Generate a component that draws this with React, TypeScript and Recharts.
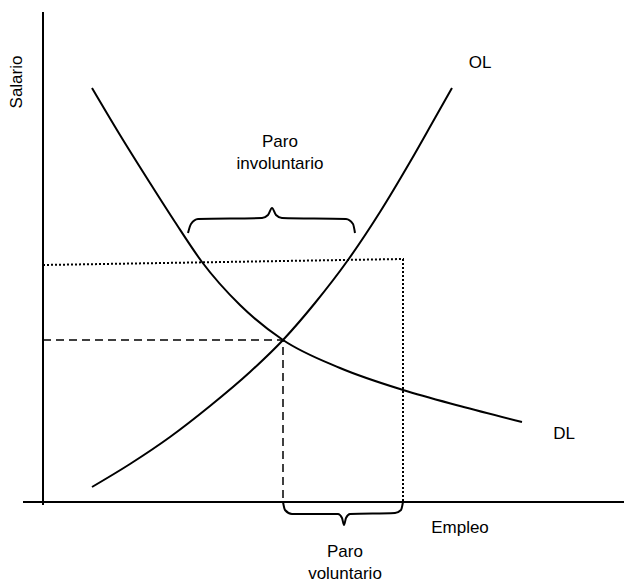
import { LineChart, Line, XAxis, YAxis, ReferenceLine, ReferenceDot } from 'recharts'

// Coordinates are in abstract "empleo" (x) / "salario" (y) units.
const demandaDL = [
  { x: 49, y: 414 },
  { x: 77, y: 367 },
  { x: 107, y: 319 },
  { x: 132, y: 280 },
  { x: 159, y: 240 },
  { x: 197, y: 197 },
  { x: 240, y: 162 },
  { x: 297, y: 134 },
  { x: 360, y: 112 },
  { x: 417, y: 96 },
  { x: 479, y: 80 },
]

const ofertaOL = [
  { x: 49, y: 15 },
  { x: 87, y: 38 },
  { x: 127, y: 65 },
  { x: 167, y: 96 },
  { x: 207, y: 130 },
  { x: 240, y: 162 },
  { x: 272, y: 199 },
  { x: 305, y: 242 },
  { x: 337, y: 290 },
  { x: 367, y: 340 },
  { x: 392, y: 384 },
  { x: 409, y: 414 },
]

// equilibrio: linea discontinua
const equilibrio = [
  { x: 0, y: 162 },
  { x: 240, y: 162 },
  { x: 240, y: 0 },
]

// salario por encima del equilibrio: linea punteada
const salarioAlto = [
  { x: 0, y: 237 },
  { x: 360, y: 243 },
  { x: 360, y: 0 },
]

const llaveInvoluntario = [
  { x: 145, y: 269 },
  { x: 148, y: 278 },
  { x: 155, y: 283 },
  { x: 219, y: 284 },
  { x: 225, y: 287 },
  { x: 229, y: 294 },
  { x: 233, y: 287 },
  { x: 239, y: 284 },
  { x: 303, y: 283 },
  { x: 310, y: 278 },
  { x: 312, y: 269 },
]

const llaveVoluntario = [
  { x: 240, y: 0 },
  { x: 242, y: -8 },
  { x: 249, y: -12 },
  { x: 295, y: -12 },
  { x: 299, y: -16 },
  { x: 301, y: -23 },
  { x: 303, y: -16 },
  { x: 307, y: -12 },
  { x: 352, y: -11 },
  { x: 358, y: -8 },
  { x: 360, y: 0 },
]

const etiquetas = [
  { x: 437, y: 440, text: 'OL' },
  { x: 521, y: 69, text: 'DL' },
  { x: 237, y: 361, text: 'Paro' },
  { x: 237, y: 339, text: 'involuntario' },
  { x: 417, y: -25, text: 'Empleo' },
  { x: 302, y: -49, text: 'Paro' },
  { x: 302, y: -71, text: 'voluntario' },
]

const ejeY = { x: -27, y: 420, text: 'Salario' }

const FONT = 'Liberation Sans, Arial, sans-serif'
const INK = '#000'

export default function App() {
  return (
    <div style={{ position: 'absolute', left: 0, top: 0, background: '#fff' }}>
      <LineChart width={624} height={583} margin={{ top: 0, right: 0, bottom: 0, left: 0 }}>
        <XAxis type="number" dataKey="x" domain={[-43, 581]} allowDataOverflow hide />
        <YAxis type="number" dataKey="y" domain={[-81, 502]} allowDataOverflow hide />

        {/* axes drawn by hand so they can overhang each other */}
        <ReferenceLine segment={[{ x: -20, y: 0 }, { x: 581, y: 0 }]} stroke={INK} strokeWidth={2} />
        <ReferenceLine segment={[{ x: 0, y: -3 }, { x: 0, y: 490 }]} stroke={INK} strokeWidth={2} />

        <Line data={salarioAlto} dataKey="y" type="linear" stroke={INK} strokeWidth={2} strokeDasharray="2 2" dot={false} activeDot={false} isAnimationActive={false} />
        <Line data={equilibrio} dataKey="y" type="linear" stroke={INK} strokeWidth={1.5} strokeDasharray="8 5" dot={false} activeDot={false} isAnimationActive={false} />
        <Line data={demandaDL} dataKey="y" type="monotone" stroke={INK} strokeWidth={2} dot={false} activeDot={false} isAnimationActive={false} />
        <Line data={ofertaOL} dataKey="y" type="monotone" stroke={INK} strokeWidth={2} dot={false} activeDot={false} isAnimationActive={false} />
        <Line data={llaveInvoluntario} dataKey="y" type="monotone" stroke={INK} strokeWidth={2} dot={false} activeDot={false} isAnimationActive={false} />
        <Line data={llaveVoluntario} dataKey="y" type="monotone" stroke={INK} strokeWidth={2} dot={false} activeDot={false} isAnimationActive={false} />

        {etiquetas.map((e, i) => (
          <ReferenceDot
            key={i}
            x={e.x}
            y={e.y}
            r={0}
            fill="none"
            stroke="none"
            label={{ value: e.text, position: 'center', fill: INK, fontSize: 17, fontFamily: FONT }}
          />
        ))}
        <ReferenceDot
          x={ejeY.x}
          y={ejeY.y}
          r={0}
          fill="none"
          stroke="none"
          label={{ value: ejeY.text, position: 'center', angle: -90, fill: INK, fontSize: 17, fontFamily: FONT }}
        />
      </LineChart>
    </div>
  )
}
